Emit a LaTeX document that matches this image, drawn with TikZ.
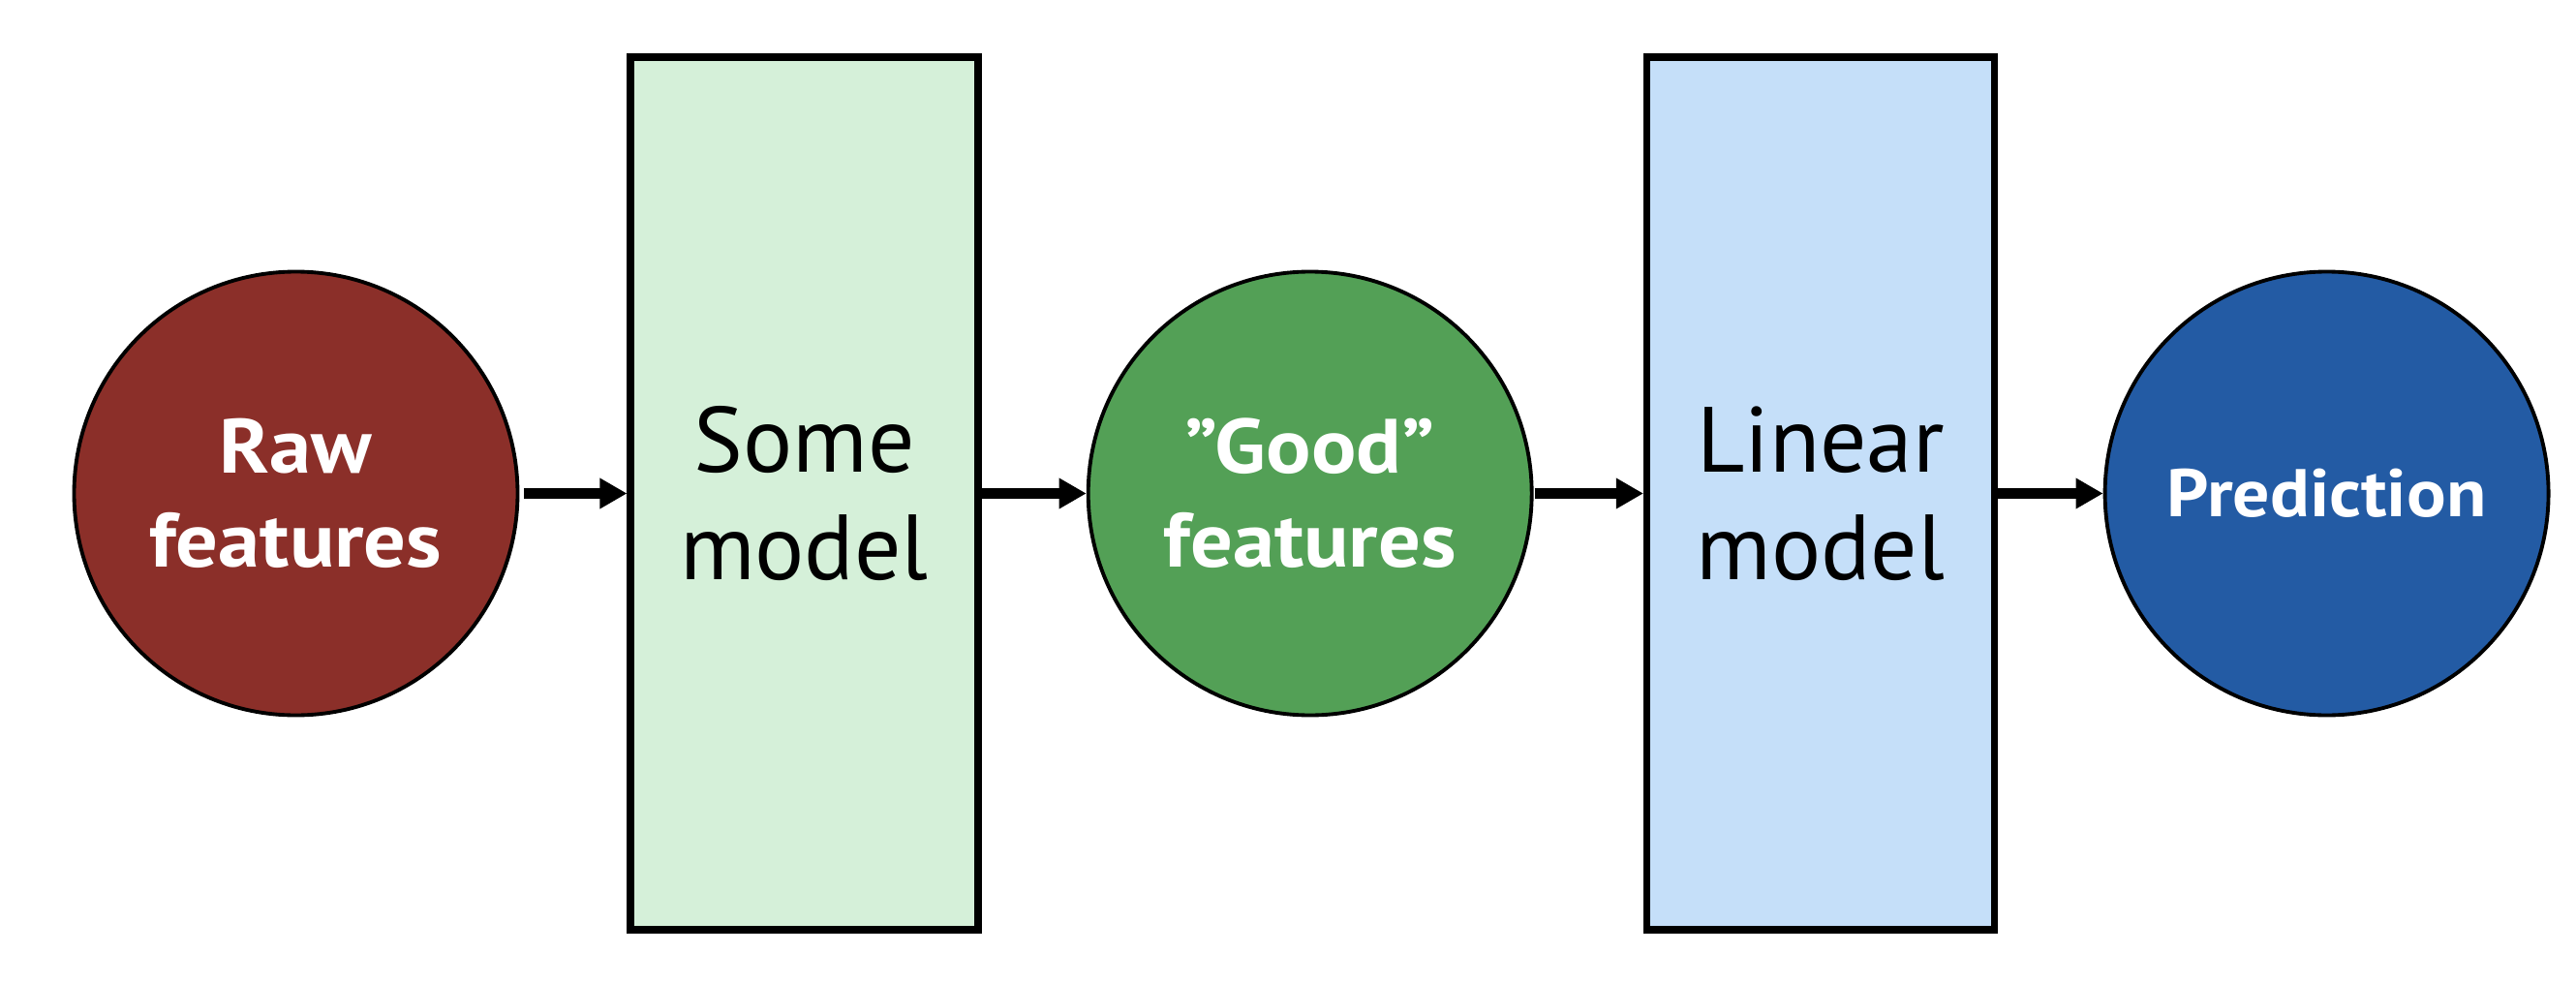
\documentclass[tikz,border=0pt]{standalone}
\usepackage{fontspec}
\setmainfont[BoldFeatures={FakeStretch=1.09}]{PT Sans}
\usetikzlibrary{arrows.meta}
\definecolor{rawred}{HTML}{8B2F29}
\definecolor{goodgreen}{HTML}{53A056}
\definecolor{predblue}{HTML}{235BA4}
\definecolor{lightgreen}{HTML}{D5F0D9}
\definecolor{lightblue}{HTML}{C5DFF9}
\tikzset{
  featcircle/.style={circle, draw=black, line width=1.1pt, minimum size=4.58cm, inner sep=0pt,
    text=white, align=center, font=\bfseries\fontsize{22.6}{27.6}\selectfont},
  modelbox/.style={rectangle, draw=black, line width=2pt, minimum width=3.59cm, minimum height=9.01cm,
    inner sep=0pt, align=center, font=\fontsize{27.2}{31.6}\selectfont},
  flow/.style={line width=2.85pt, -{Triangle[length=8pt,width=8.5pt]}}
}
\begin{document}
\begin{tikzpicture}
\useasboundingbox (0,0) rectangle (26.6,-10.16);
\node[featcircle, fill=rawred] (raw) at (3.055,-5.095) {Raw\\features};
\node[modelbox, fill=lightgreen] (some) at (8.305,-5.095) {Some\\model};
\node[featcircle, fill=goodgreen] (good) at (13.527,-5.095) {”Good”\\features};
\node[modelbox, fill=lightblue] (linear) at (18.80,-5.095) {Linear\\model};
\node[featcircle, fill=predblue, font=\bfseries\fontsize{19.8}{24}\selectfont] (pred) at (24.026,-5.095) {Prediction};
\draw[flow, shorten <=0.05cm] (raw.east) -- (some.west);
\draw[flow] (some.east) -- (good.west);
\draw[flow, shorten <=0.01cm] (good.east) -- (linear.west);
\draw[flow] (linear.east) -- (pred.west);
\end{tikzpicture}
\end{document}
